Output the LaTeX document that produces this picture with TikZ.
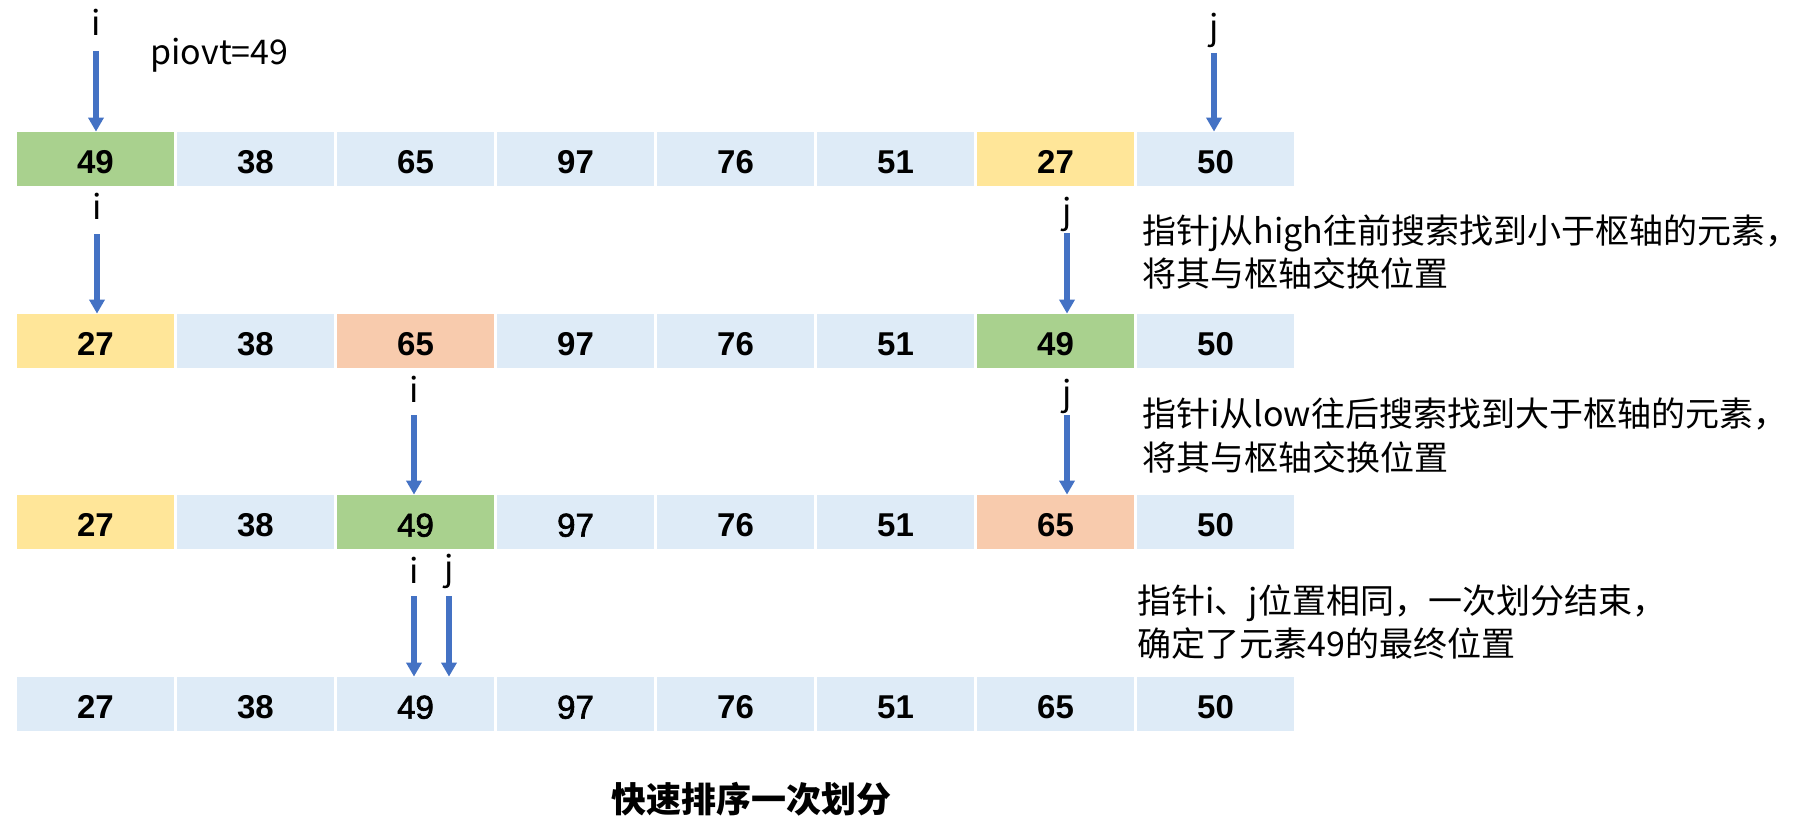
\documentclass[tikz,border=0pt]{standalone}
\usepackage{fontspec}
\setmainfont{Liberation Sans}
\newfontfamily\numsemi[FakeBold=2]{Liberation Sans}
\newfontfamily\cjk{Noto Sans CJK SC}
\usetikzlibrary{arrows.meta}
\definecolor{cgreen}{HTML}{A9D18E}
\definecolor{cblue}{HTML}{DEEBF7}
\definecolor{cyellow}{HTML}{FFE699}
\definecolor{cpeach}{HTML}{F8CBAD}
\definecolor{cptr}{HTML}{4472C4}
\begin{document}
\begin{tikzpicture}[x=0.5pt,y=-0.5pt,
  cell/.style={minimum width=78.75pt,minimum height=27pt,inner sep=0pt,fill=cblue,text height=14.6pt,text depth=0pt},
  bld/.style={font=\fontsize{16.5}{19}\selectfont\bfseries},
  reg/.style={font=\numsemi\fontsize{16.5}{19}\selectfont},
  lbl/.style={font=\cjk\fontsize{17}{20}\selectfont,anchor=base,inner sep=0pt},
  note/.style={font=\cjk\fontsize{17}{20}\selectfont,anchor=base west,inner sep=0pt},
  ttl/.style={font=\cjk\bfseries\fontsize{17.5}{20}\selectfont,anchor=base,inner sep=0pt},
  ptr/.style={draw=cptr,line width=3pt,-{Triangle[width=7.5pt,length=7pt]}},
]
\useasboundingbox[fill=white] (0,0) rectangle (1813,824);

% row 1
\foreach \v/\c/\w [count=\k from 0] in {49/cgreen/bld,38/cblue/bld,65/cblue/bld,97/cblue/bld,76/cblue/bld,51/cblue/bld,27/cyellow/bld,50/cblue/bld}
  \node[cell,fill=\c,\w] (r1c\k) at ({95.5+160*\k},159) {\v};
% row 2
\foreach \v/\c/\w [count=\k from 0] in {27/cyellow/bld,38/cblue/bld,65/cpeach/bld,97/cblue/bld,76/cblue/bld,51/cblue/bld,49/cgreen/bld,50/cblue/bld}
  \node[cell,fill=\c,\w] (r2c\k) at ({95.5+160*\k},341) {\v};
% row 3
\foreach \v/\c/\w [count=\k from 0] in {27/cyellow/bld,38/cblue/bld,49/cgreen/reg,97/cblue/reg,76/cblue/bld,51/cblue/bld,65/cpeach/bld,50/cblue/bld}
  \node[cell,fill=\c,\w] (r3c\k) at ({95.5+160*\k},522) {\v};
% row 4
\foreach \v/\c/\w [count=\k from 0] in {27/cblue/bld,38/cblue/bld,49/cblue/reg,97/cblue/reg,76/cblue/bld,51/cblue/bld,65/cblue/bld,50/cblue/bld}
  \node[cell,fill=\c,\w] (r4c\k) at ({95.5+160*\k},704) {\v};

% pointer labels
\node[lbl] (l1i) at (96,36) {i};
\node[lbl] (l1j) at (1214,40) {j};
\node[lbl] (l2i) at (97,219) {i};
\node[lbl] (l2j) at (1067,223) {j};
\node[lbl] (l3i) at (414,402) {i};
\node[lbl] (l3j) at (1067,405) {j};
\node[lbl] (l4i) at (414,583) {i};
\node[lbl] (l4j) at (449,580) {j};

\node[note] (piv) at (150,65) {piovt=49};

% arrow starts
\coordinate (s1i) at (96,51);
\coordinate (s1j) at (1214,53);
\coordinate (s2i) at (97,234);
\coordinate (s2j) at (1067,233);
\coordinate (s3i) at (414,415);
\coordinate (s3j) at (1067,415);
\coordinate (s4i) at (414,596);
\coordinate (s4j) at (449,596);

\draw[ptr] (s1i) -- (s1i |- r1c0.north);
\draw[ptr] (s1j) -- (s1j |- r1c7.north);
\draw[ptr] (s2i) -- (s2i |- r2c0.north);
\draw[ptr] (s2j) -- (s2j |- r2c6.north);
\draw[ptr] (s3i) -- (s3i |- r3c2.north);
\draw[ptr] (s3j) -- (s3j |- r3c6.north);
\draw[ptr] (s4i) -- (s4i |- r4c2.north);
\draw[ptr] (s4j) -- (s4j |- r4c2.north);

% notes
\node[note] (n1a) at (1142,243) {指针j从high往前搜索找到小于枢轴的元素，};
\node[note] (n1b) at (1142,286) {将其与枢轴交换位置};
\node[note] (n2a) at (1142,426) {指针i从low往后搜索找到大于枢轴的元素，};
\node[note] (n2b) at (1142,470) {将其与枢轴交换位置};
\node[note] (n3a) at (1137,613) {指针i、j位置相同，一次划分结束，};
\node[note] (n3b) at (1137,656) {确定了元素49的最终位置};

\node[ttl] (title) at (751,812) {快速排序一次划分};
\end{tikzpicture}
\end{document}
